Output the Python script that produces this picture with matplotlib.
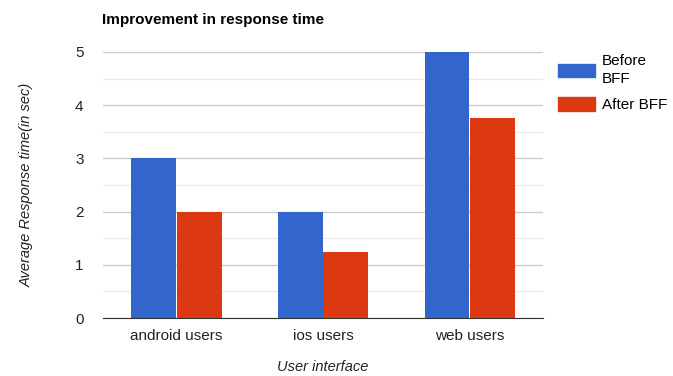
import numpy as np
import matplotlib.pyplot as plt
from matplotlib.patches import Patch

# Data
categories = ['android users', 'ios users', 'web users']
before_bff = [3, 2, 5]
after_bff = [2, 1.25, 3.75]
series_names = ['Before\nBFF', 'After BFF']

plt.rcParams['font.family'] = ['Liberation Sans', 'DejaVu Sans']

fig = plt.figure(figsize=(6.73, 3.76), dpi=100)
ax = fig.add_axes([0.153, 0.154, 0.654, 0.708])

x = np.arange(len(categories))
w = 0.305
blue = '#3366CC'
red = '#DC3912'
ax.bar(x - w / 2 - 0.003, before_bff, w, color=blue, zorder=3)
ax.bar(x + w / 2 + 0.003, after_bff, w, color=red, zorder=3)

ax.set_xlim(-0.5, 2.5)
ax.set_ylim(0, 5)
ax.set_yticks([0, 1, 2, 3, 4, 5])
ax.set_yticks(np.arange(0.5, 5, 1), minor=True)
ax.grid(axis='y', which='major', color='#cccccc', linewidth=1, zorder=0)
ax.grid(axis='y', which='minor', color='#ebebeb', linewidth=1, zorder=0)
ax.set_xticks(x)
ax.set_xticklabels(categories)
ax.tick_params(axis='both', which='both', length=0, labelsize=11, colors='#222222')
ax.tick_params(axis='y', pad=14)
ax.tick_params(axis='x', pad=8)
for s in ['top', 'right', 'left']:
    ax.spines[s].set_visible(False)
ax.spines['bottom'].set_color('#333333')
ax.spines['bottom'].set_zorder(4)

ax.set_ylabel('Average Response time(in sec)', fontstyle='italic', fontsize=10.5,
              color='#222222', labelpad=30)
ax.set_xlabel('User interface', fontstyle='italic', fontsize=10.5,
              color='#222222', labelpad=12)

fig.text(102 / 673, 1 - 20 / 376, 'Improvement in response time', fontsize=11,
         fontweight='bold', va='center', ha='left')

handles = [Patch(color=blue), Patch(color=red)]
leg = fig.legend(handles, series_names, loc='upper left', bbox_to_anchor=(0.813, 0.885),
                 frameon=False, fontsize=11, handlelength=2.4, handleheight=1.0,
                 handletextpad=0.5, labelspacing=0.7, borderpad=0.2)
for t in leg.get_texts():
    t.set_linespacing(1.4)

fig.savefig('out.png', dpi=100)
